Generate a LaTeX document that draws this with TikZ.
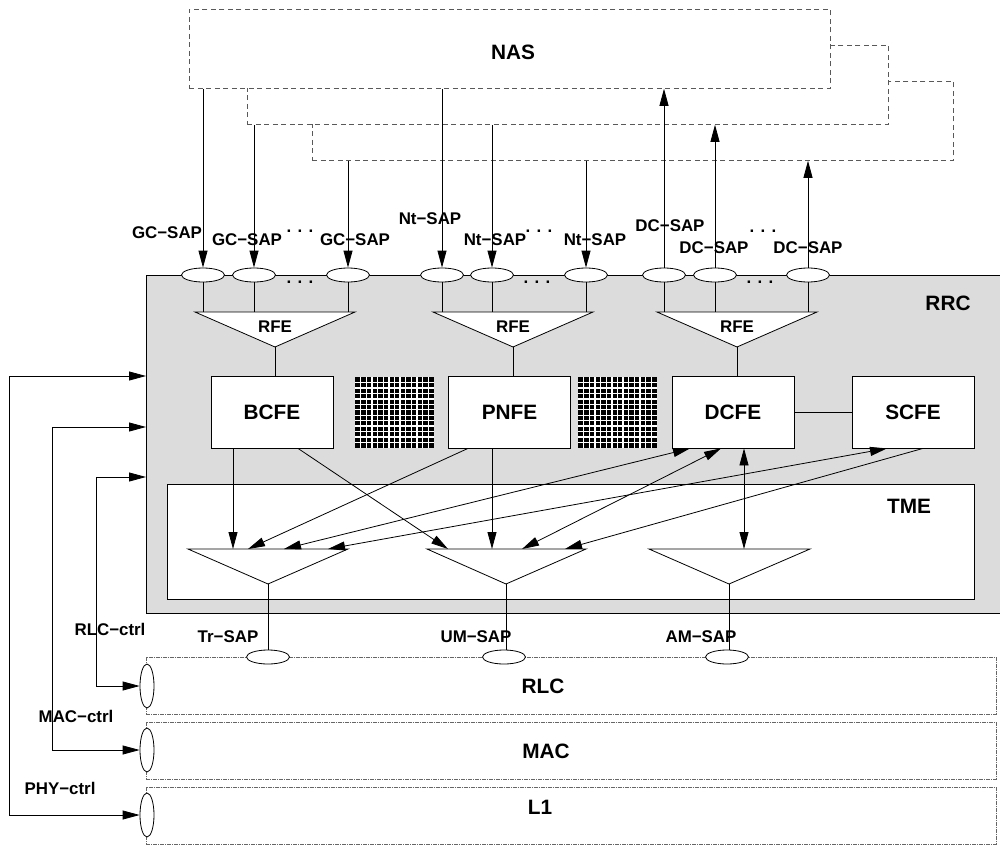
\documentclass[tikz,border=0pt]{standalone}
\usepackage{fontspec}
\setmainfont{Liberation Sans}
\usetikzlibrary{shapes.geometric,arrows.meta}

\begin{document}
\begin{tikzpicture}[x=1pt,y=-1pt,line width=0.8pt,
    lbl/.style={font=\bfseries\fontsize{16.9}{18}\selectfont,inner sep=0pt},
    big/.style={font=\bfseries\fontsize{20.8}{22}\selectfont,inner sep=0pt},
    nasbox/.style={draw=black!65,dash pattern=on 5pt off 3.5pt,fill=white,inner sep=0pt,anchor=north west,minimum width=641pt,minimum height=79pt},
    layerbox/.style={draw=black!60,line width=0.7pt,dash pattern=on 4pt off 1pt on 1pt off 1pt,inner sep=0pt,anchor=north west,minimum width=850pt,minimum height=57pt},
    sap/.style={ellipse,draw,fill=white,minimum width=43pt,minimum height=14pt,inner sep=0pt},
    vsap/.style={ellipse,draw,fill=white,minimum width=14pt,minimum height=44pt,inner sep=0pt},
    febox/.style={draw,fill=white,minimum width=122pt,minimum height=72pt,inner sep=0pt},
    funnel/.style={draw,fill=white},
    arrowone/.style={-{Triangle[length=17pt,width=9pt]}},
    arrowtwo/.style={{Triangle[length=17pt,width=9pt]}-{Triangle[length=17pt,width=9pt]}}]
    \definecolor{rrcgray}{HTML}{DCDCDC}
    \useasboundingbox (0,0) rectangle (1000,845);

    % NAS, three stacked boxes
    \node[nasbox] (nas3) at (312,81) {};
    \node[nasbox] (nas2) at (247,45) {};
    \node[nasbox] (nas1) at (189,9) {};
    \node[big] (nastext) at (513,52) {NAS};

    % RRC
    \fill[rrcgray] (146,275) rectangle (1000,613);
    \draw (1000,275) -- (146,275) -- (146,613) -- (1000,613);
    \node[big] (rrctext) at (948,303) {RRC};

    % SAPs on top of RRC
    \foreach \nm/\x in {gc1/203,gc2/254,gc3/348,nt1/442,nt2/492,nt3/586,dc1/664,dc2/715,dc3/808}
      \node[sap] (\nm) at (\x,275) {};
    \foreach \a/\b in {nas1/gc1,nas2/gc2,nas3/gc3,nas1/nt1,nas2/nt2,nas3/nt3}
      \draw[arrowone] (\a.south -| \b) -- (\b.north);
    \foreach \a/\b in {nas1/dc1,nas2/dc2,nas3/dc3}
      \draw[arrowone] (\b.north) -- (\a.south -| \b);

    \node[lbl] (gcl1) at (167,233) {GC−SAP};
    \node[lbl] (gcl2) at (247,240) {GC−SAP};
    \node[lbl] (gcl3) at (355,240) {GC−SAP};
    \node[lbl] (ntl1) at (430,219) {Nt−SAP};
    \node[lbl] (ntl2) at (495,240) {Nt−SAP};
    \node[lbl] (ntl3) at (595,240) {Nt−SAP};
    \node[lbl] (dcl1) at (670,226) {DC−SAP};
    \node[lbl] (dcl2) at (714,248) {DC−SAP};
    \node[lbl] (dcl3) at (808,248) {DC−SAP};
    \foreach \x/\y [count=\i] in {300/232,539/232,763/232,300/283,537/283,760/283}
      \node[lbl,anchor=base] (dots\i) at (\x,\y) {. . .};

    % RFE funnels
    \foreach \l/\r/\m/\nm in {195/355/275/rfe1,433/593/513/rfe2,657/817/737/rfe3}{
      \draw[funnel] (\l,312) -- (\r,312) -- (\m,347) -- cycle;
      \coordinate (\nm) at (\m,312);
      \coordinate (\nm tip) at (\m,347);
      \node[lbl] (\nm text) at (\m,327) {RFE};
    }
    \foreach \s/\t in {gc1/rfe1,gc2/rfe1,gc3/rfe1,nt1/rfe2,nt2/rfe2,nt3/rfe2,dc1/rfe3,dc2/rfe3,dc3/rfe3}
      \draw (\s.south) -- (\s.south |- \t);

    % functional entities
    \node[febox,big] (bcfe) at (272,412) {BCFE};
    \node[febox,big] (pnfe) at (509.5,412) {PNFE};
    \node[febox,big] (dcfe) at (733,412) {DCFE};
    \node[febox,big] (scfe) at (913,412) {SCFE};
    \draw (rfe1tip) -- (rfe1tip |- bcfe.north);
    \draw (rfe2tip) -- (rfe2tip |- pnfe.north);
    \draw (rfe3tip) -- (rfe3tip |- dcfe.north);
    \draw (dcfe) -- (scfe);

    % hatched blocks
    \foreach \hx in {355,578}{
      \fill (\hx,377) rectangle ({\hx+79},448);
      \foreach \k in {1,...,13}
        \draw[white,line width=1.4pt] ({\hx+\k*5.64},377) -- ({\hx+\k*5.64},448);
      \foreach \k in {1,...,12}
        \draw[white,line width=1.4pt] (\hx,{377+\k*5.46}) -- ({\hx+79},{377+\k*5.46});
    }

    % TME
    \node[draw,fill=white,inner sep=0pt,anchor=north west,minimum width=807pt,minimum height=115pt] (tme) at (167,484) {};
    \node[big] (tmetext) at (909,506) {TME};
    \foreach \l/\r/\m/\nm in {188/348/268/tr,427/586/506/um,649/810/729/am}{
      \draw[funnel] (\l,549) -- (\r,549) -- (\m,584) -- cycle;
      \coordinate (\nm top) at (\m,549);
      \coordinate (\nm tip) at (\m,584);
    }
    \draw[arrowone] ([xshift=-39pt]bcfe.south) -- ([xshift=-35pt]trtop);
    \draw[arrowone] ([xshift=26pt]bcfe.south) -- ([xshift=-58pt]umtop);
    \draw[arrowone] ([xshift=-41.5pt]pnfe.south) -- ([xshift=-20pt]trtop);
    \draw[arrowone] ([xshift=-17.5pt]pnfe.south) -- ([xshift=-14pt]umtop);
    \draw[arrowtwo] ([xshift=-43pt]dcfe.south) -- ([xshift=16pt]trtop);
    \draw[arrowtwo] ([xshift=-12pt]dcfe.south) -- ([xshift=16pt]umtop);
    \draw[arrowtwo] ([xshift=11pt]dcfe.south) -- ([xshift=15pt]amtop);
    \draw[arrowtwo] ([xshift=-26pt]scfe.south) -- ([xshift=60pt]trtop);
    \draw[arrowone] ([xshift=10pt]scfe.south) -- ([xshift=59pt]umtop);

    % lower layers
    \node[layerbox] (rlc) at (146,657) {};
    \node[layerbox] (mac) at (146,722) {};
    \node[layerbox] (lone) at (146,787) {};
    \node[big] (rlctext) at (543,686) {RLC};
    \node[big] (mactext) at (546,751) {MAC};
    \node[big] (lonetext) at (540,807) {L1};

    \node[sap] (trsap) at (268,657) {};
    \node[sap] (umsap) at (504,657) {};
    \node[sap] (amsap) at (727,657) {};
    \draw (trtip) -- (trtip |- trsap.north);
    \draw (umtip) -- (umtip |- umsap.north);
    \draw (amtip) -- (amtip |- amsap.north);
    \node[lbl] (trl) at (228,637) {Tr−SAP};
    \node[lbl] (uml) at (476,637) {UM−SAP};
    \node[lbl] (aml) at (701,637) {AM−SAP};

    % control SAPs
    \node[vsap] (rlcctl) at (147,686) {};
    \node[vsap] (macctl) at (147,750) {};
    \node[vsap] (phyctl) at (147,815) {};
    \coordinate (rrcrlc) at (146,477);
    \coordinate (rrcmac) at (146,427);
    \coordinate (rrcphy) at (146,376);
    \coordinate (rlcbend) at (96,477);
    \coordinate (macbend) at (52,427);
    \coordinate (phybend) at (9,376);
    \draw[arrowtwo] (rrcrlc) -- (rlcbend) |- (rlcctl.west);
    \draw[arrowtwo] (rrcmac) -- (macbend) |- (macctl.west);
    \draw[arrowtwo] (rrcphy) -- (phybend) |- (phyctl.west);
    \node[lbl] (rlcl) at (110,629) {RLC−ctrl};
    \node[lbl] (macl) at (76,716) {MAC−ctrl};
    \node[lbl] (phyl) at (60,788) {PHY−ctrl};
\end{tikzpicture}
\end{document}
